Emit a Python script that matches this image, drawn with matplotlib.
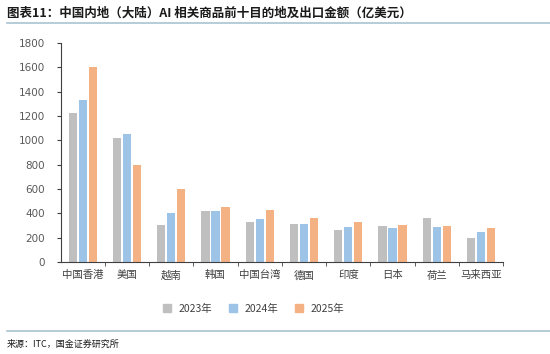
import matplotlib

matplotlib.use("Agg")
import matplotlib.pyplot as plt
import numpy as np
from matplotlib.lines import Line2D

plt.rcParams["font.family"] = ["Noto Sans CJK SC", "DejaVu Sans"]

CATEGORIES = ["中国香港", "美国", "越南", "韩国", "中国台湾", "德国", "印度", "日本", "荷兰", "马来西亚"]
SERIES_NAMES = ["2023年", "2024年", "2025年"]
VALUES_2023 = [1220, 1020, 305, 420, 330, 315, 265, 293, 362, 200]
VALUES_2024 = [1330, 1050, 400, 420, 356, 315, 290, 275, 290, 250]
VALUES_2025 = [1600, 800, 600, 450, 430, 365, 326, 304, 298, 282]
COLORS = ["#BFBFBF", "#9DC3E6", "#F4B183"]
Y_TICKS = [0, 200, 400, 600, 800, 1000, 1200, 1400, 1600, 1800]

TITLE = "图表11：中国内地（大陆）AI 相关商品前十目的地及出口金额（亿美元）"
SOURCE = "来源：ITC，国金证券研究所"


def main() -> None:
    fig = plt.figure(figsize=(5.5, 3.54), dpi=100)
    ax = fig.add_axes([0.110, 0.260, 0.805, 0.619])

    x = np.arange(len(CATEGORIES))
    width = 0.185
    pitch = 0.226
    for i, (vals, color) in enumerate(zip([VALUES_2023, VALUES_2024, VALUES_2025], COLORS)):
        ax.bar(x + (i - 1) * pitch, vals, width=width, color=color, label=SERIES_NAMES[i], zorder=2)

    ax.set_xlim(-0.5, len(CATEGORIES) - 0.5)
    ax.set_ylim(0, 1800)
    ax.set_yticks(Y_TICKS)
    ax.set_xticks(x)
    ax.set_xticklabels(CATEGORIES, fontsize=7.5, color="#404040")
    ax.tick_params(axis="x", length=0, pad=6)
    ax.set_xticks(np.arange(0.5, len(CATEGORIES) - 0.4, 1.0), minor=True)
    ax.tick_params(axis="x", which="minor", length=3, direction="out", color="#404040")
    ax.tick_params(axis="y", labelsize=7.5, labelcolor="#595959", length=3, color="#404040", pad=8)
    for lbl in ax.get_yticklabels():
        lbl.set_family(["DejaVu Sans"])

    for spine in ["top", "right"]:
        ax.spines[spine].set_visible(False)
    for spine in ["left", "bottom"]:
        ax.spines[spine].set_color("#404040")
        ax.spines[spine].set_linewidth(0.8)

    handles = [Line2D([], [], marker="s", linestyle="none", markersize=6, color=c) for c in COLORS]
    fig.legend(handles, SERIES_NAMES, loc="center", bbox_to_anchor=(0.455, 0.127), ncol=3,
               frameon=False, fontsize=7.5, handletextpad=0.1, columnspacing=1.0,
               labelcolor="#404040")

    fig.text(0.012, 0.962, TITLE, fontsize=9.0, fontweight="bold", fontstyle="italic",
             ha="left", va="center", color="#1a1a1a")
    fig.add_artist(Line2D([0.012, 1.0], [0.935, 0.935], color="#A9C4D2", linewidth=1.2))
    fig.add_artist(Line2D([0.012, 1.0], [0.065, 0.065], color="#A9C4D2", linewidth=1.2))
    fig.text(0.012, 0.028, SOURCE, fontsize=6.5, ha="left", va="center", color="#1a1a1a")

    fig.savefig("out.png", dpi=100, facecolor="white")
    plt.close(fig)


if __name__ == "__main__":
    main()
